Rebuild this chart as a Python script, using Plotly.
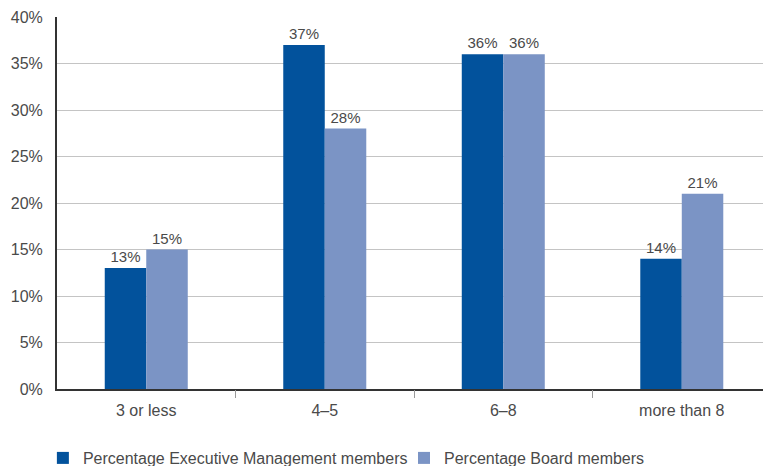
import plotly.graph_objects as go

# Board size bands and the share of respondents in each
categories = ["3 or less", "4\u20135", "6\u20138", "more than 8"]
exec_mgmt = [13, 37, 36, 14]
board = [15, 28, 36, 21]
y_ticks = [0, 5, 10, 15, 20, 25, 30, 35, 40]

DARK = "#02529C"
LIGHT = "#7B94C5"
TEXT = "#4a4a4a"
FONT = "Liberation Sans"

fig = go.Figure()
fig.add_trace(go.Bar(
    x=categories, y=exec_mgmt, name="Percentage Executive Management members",
    marker=dict(color=DARK, line=dict(width=0)),
    text=[f"{v}%" for v in exec_mgmt], textposition="outside",
    textfont=dict(family=FONT, size=15, color=TEXT), cliponaxis=False,
    legend="legend",
))
fig.add_trace(go.Bar(
    x=categories, y=board, name="Percentage Board members",
    marker=dict(color=LIGHT, line=dict(width=0)),
    text=[f"{v}%" for v in board], textposition="outside",
    textfont=dict(family=FONT, size=15, color=TEXT), cliponaxis=False,
    legend="legend2",
))

# invisible helper trace so the boundary-tick axis is drawn
fig.add_trace(go.Scatter(x=[0.5], y=[0], xaxis="x2", mode="markers",
                         marker=dict(opacity=0), showlegend=False, hoverinfo="skip"))

x_range = [-0.5, 3.455]
legend_common = dict(
    orientation="h", xanchor="left",
    yref="container", y=8 / 466, yanchor="middle",
    font=dict(family=FONT, size=16, color=TEXT),
    itemwidth=30, bgcolor="rgba(0,0,0,0)",
)

fig.update_layout(
    width=763, height=466,
    margin=dict(l=57, r=0, t=17, b=77, autoexpand=False),
    paper_bgcolor="white", plot_bgcolor="white",
    font=dict(family=FONT, size=16, color=TEXT),
    barmode="group", bargap=0.535, bargroupgap=0,
    xaxis=dict(
        type="category", range=x_range, automargin=False,
        showgrid=False, showline=True, linecolor="#333", linewidth=2,
        ticks="outside", ticklen=6, tickcolor="rgba(0,0,0,0)",
        tickfont=dict(family=FONT, size=16, color=TEXT),
        zeroline=False,
    ),
    xaxis2=dict(
        overlaying="x", range=x_range, side="bottom", automargin=False,
        tickmode="array", tickvals=[0.5, 1.5, 2.5], ticktext=["", "", ""],
        ticks="outside", ticklen=8, tickwidth=1, tickcolor="#999",
        showgrid=False, showline=False, zeroline=False,
        anchor="y",
    ),
    yaxis=dict(
        range=[0, 40], tickmode="array", tickvals=y_ticks, automargin=False,
        ticktext=[f"{v}%" for v in y_ticks],
        showgrid=True, gridcolor="#c4c4c4", gridwidth=1,
        showline=True, linecolor="#333", linewidth=2,
        ticks="outside", ticklen=9, tickcolor="rgba(0,0,0,0)",
        tickfont=dict(family=FONT, size=16, color=TEXT),
        zeroline=False,
    ),
    legend=dict(x=-0.02, **legend_common),
    legend2=dict(x=0.4915, **legend_common),
    showlegend=True,
)

fig.write_html("out.html")
